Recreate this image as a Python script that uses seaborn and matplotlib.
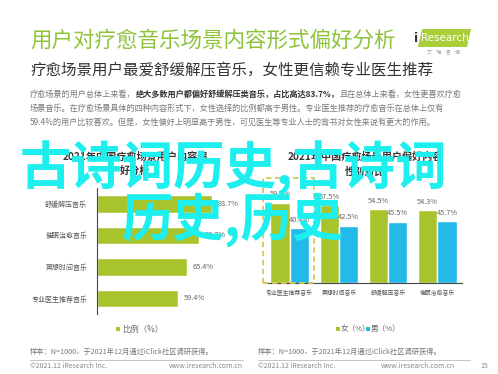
import matplotlib
matplotlib.use("Agg")
import matplotlib.pyplot as plt
from matplotlib.patches import Rectangle, Polygon
import seaborn as sns
import pandas as pd

# ---------------- data ----------------
left_categories = ["舒缓解压音乐", "催眠治愈音乐", "冥想时间音乐", "专业医生推荐音乐"]
left_values = [83.7, 74.7, 65.4, 59.4]

right_categories = ["专业医生推荐音乐", "冥想时间音乐", "舒缓解压音乐", "催眠治愈音乐"]
female_values = [59.6, 57.5, 54.5, 54.3]
male_values = [40.4, 42.5, 45.5, 45.7]
series_names = ["女（%）", "男（%）"]

left_title = "2021年中国疗愈场景用户内容偏\n好分析"
right_title = "2021年中国疗愈场景用户偏好内容\n性别对比"
left_legend = "比例（%）"

header_title = "用户对疗愈音乐场景内容形式偏好分析"
subtitle = "疗愈场景用户最爱舒缓解压音乐，女性更信赖专业医生推荐"
para_1a = "疗愈场景的用户总体上来看，"
para_1b = "绝大多数用户都偏好舒缓解压类音乐，占比高达83.7%，"
para_1c = "且在总体上来看，女性更喜欢疗愈"
para_2 = "场景音乐。在疗愈场景具体的四种内容形式下，女性选择的比例都高于男性。专业医生推荐的疗愈音乐在总体上仅有"
para_3 = "59.4%的用户比较喜欢。但是，女性偏好上明显高于男性，可见医生等专业人士的背书对女性来说有更大的作用。"
source_text = "样本：N=1000，于2021年12月通过iClick社区调研获得。"
copyright_text = "©2021.12 iResearch Inc."
url_text = "www.iresearch.com.cn"
page_no = "15"
watermark_1 = "古诗词历史,古诗词"
watermark_2 = "历史,历史"

# ---------------- style ----------------
sns.set_style("white")
plt.rcParams["font.family"] = ["Noto Sans CJK SC", "DejaVu Sans"]

GREEN = "#A8C42C"
BLUE = "#23B9E8"
TITLE_GREEN = "#8DC43A"
GRAY = "#7A7A7A"
DARK = "#333333"

W, H = 498, 374
fig = plt.figure(figsize=(W / 100, H / 100), dpi=100)
fig.patch.set_facecolor("white")


def fx(x):
    return x / W


def fy(y):
    return 1 - y / H


def axes_px(x0, y0, x1, y1):
    return fig.add_axes([fx(x0), fy(y1), (x1 - x0) / W, (y1 - y0) / H])


# ---------------- header ----------------
fig.text(fx(30), fy(41), header_title, fontsize=15.5, color=TITLE_GREEN, va="center", ha="left")
# logo
logo = Polygon([[fx(418), fy(47)], [fx(422), fy(29)], [fx(471), fy(29)], [fx(467), fy(47)]],
               closed=True, transform=fig.transFigure, facecolor="#A8CF38", edgecolor="none")
fig.patches.append(logo)
fig.text(fx(414), fy(38), "i", fontsize=9, color="#333333", fontweight="bold", va="center", ha="left",
         family=["DejaVu Sans"])
fig.text(fx(421), fy(38), "Research", fontsize=7.5, color="white", va="center", ha="left", family=["DejaVu Sans"])
fig.text(fx(443), fy(53), "艾    瑞    咨    询", fontsize=3.5, color="#999999", va="center", ha="center")

fig.text(fx(30), fy(71), subtitle, fontsize=11.2, color=DARK, va="center", ha="left")

# paragraph
fig.canvas.draw()
renderer = fig.canvas.get_renderer()
PF = 5.9
t1 = fig.text(fx(30), fy(94), para_1a, fontsize=PF, color=GRAY, va="center", ha="left")
bb = t1.get_window_extent(renderer)
t2 = fig.text(bb.x1 / W, fy(94), para_1b, fontsize=PF, color=DARK, fontweight="bold", va="center", ha="left")
bb2 = t2.get_window_extent(renderer)
fig.text(bb2.x1 / W, fy(94), para_1c, fontsize=PF, color=GRAY, va="center", ha="left")
fig.text(fx(30), fy(108), para_2, fontsize=PF, color=GRAY, va="center", ha="left")
fig.text(fx(30), fy(122), para_3, fontsize=PF, color=GRAY, va="center", ha="left")

# ---------------- left chart ----------------
ax1 = axes_px(97, 188.25, 234, 314.25)
df_left = pd.DataFrame({"cat": left_categories, "value": left_values})
sns.barplot(data=df_left, x="value", y="cat", orient="h", color=GREEN, width=0.57,
            saturation=1, ax=ax1)
ax1.set_xlim(0, 100)
ax1.set_xlabel("")
ax1.set_ylabel("")
ax1.set_xticks([])
ax1.tick_params(axis="y", length=0, labelsize=5.0, labelcolor="#555555", pad=7)
for s in ["top", "right", "bottom"]:
    ax1.spines[s].set_visible(False)
ax1.spines["left"].set_color("#444444")
ax1.spines["left"].set_linewidth(0.8)
ax1.set_facecolor("none")
for c in ax1.containers:
    ax1.bar_label(c, fmt="%.1f%%", padding=4, fontsize=5.3, color="#666666")

fig.text(fx(135), fy(164), left_title, fontsize=7.3, color=DARK, fontweight="bold",
         ha="center", va="center", linespacing=1.5)

# left legend
fig.patches.append(Rectangle((fx(116), fy(331)), 4 / W, 4 / H, transform=fig.transFigure,
                             facecolor=GREEN, edgecolor="none"))
fig.text(fx(122), fy(329), left_legend, fontsize=6, color="#666666", va="center", ha="left")

# ---------------- right chart ----------------
ax2 = axes_px(265, 175, 462, 283)
df_right = pd.DataFrame({
    "cat": right_categories * 2,
    "value": female_values + male_values,
    "sex": [series_names[0]] * len(right_categories) + [series_names[1]] * len(right_categories),
})
sns.barplot(data=df_right, x="cat", y="value", hue="sex", palette=[GREEN, BLUE], width=0.78,
            saturation=1, ax=ax2, legend=False)
ax2.set_ylim(0, 80)
ax2.set_xlim(-0.5, 3.5)
ax2.set_xlabel("")
ax2.set_ylabel("")
ax2.set_yticks([])
ax2.tick_params(axis="x", length=0, labelsize=4.2, labelcolor="#555555", pad=5)
for s in ["top", "right", "left"]:
    ax2.spines[s].set_visible(False)
ax2.spines["bottom"].set_color("#444444")
ax2.spines["bottom"].set_linewidth(0.8)
ax2.set_facecolor("none")
for c in ax2.containers:
    ax2.bar_label(c, fmt="%.1f%%", padding=3, fontsize=5.3, color="#666666")
ax2.add_patch(Rectangle((-0.55, 0), 1.04, 78, fill=False, edgecolor="#D8C65A",
                        linestyle=(0, (3, 2)), linewidth=1.3, clip_on=False, zorder=5))

fig.text(fx(365), fy(164), right_title, fontsize=7.3, color=DARK, fontweight="bold",
         ha="center", va="center", linespacing=1.5)

fig.patches.append(Rectangle((fx(336), fy(331)), 4 / W, 4 / H, transform=fig.transFigure,
                             facecolor=GREEN, edgecolor="none"))
fig.text(fx(341), fy(329), series_names[0], fontsize=5.5, color="#666666", va="center", ha="left")
fig.patches.append(Rectangle((fx(366), fy(331)), 4 / W, 4 / H, transform=fig.transFigure,
                             facecolor=BLUE, edgecolor="none"))
fig.text(fx(371), fy(329), series_names[1], fontsize=5.5, color="#666666", va="center", ha="left")

# ---------------- footers ----------------
for x0, x1 in [(30, 243), (258, 470)]:
    fig.text(fx(x0), fy(352), source_text, fontsize=5.2, color="#777777", va="center", ha="left")
    fig.add_artist(plt.Line2D([fx(x0), fx(x1)], [fy(359.5), fy(359.5)], color="#BBBBBB", linewidth=0.6))
    fig.text(fx(x0), fy(366), copyright_text, fontsize=5, color="#888888", va="center", ha="left")
fig.text(fx(243), fy(366), url_text, fontsize=5, color="#888888", va="center", ha="right")
fig.text(fx(455), fy(366), url_text, fontsize=5, color="#888888", va="center", ha="right")
fig.text(fx(480), fy(366), page_no, fontsize=5, color="#888888", va="center", ha="left")

# ---------------- watermark ----------------
fig.text(fx(20), fy(168), watermark_1, fontsize=37, color="#1DEFEF", fontweight="bold",
         va="center", ha="left", zorder=20)
fig.text(fx(122), fy(220), watermark_2, fontsize=37, color="#1DEFEF", fontweight="bold",
         va="center", ha="left", zorder=20)

fig.savefig("out.png", dpi=100, facecolor="white")
